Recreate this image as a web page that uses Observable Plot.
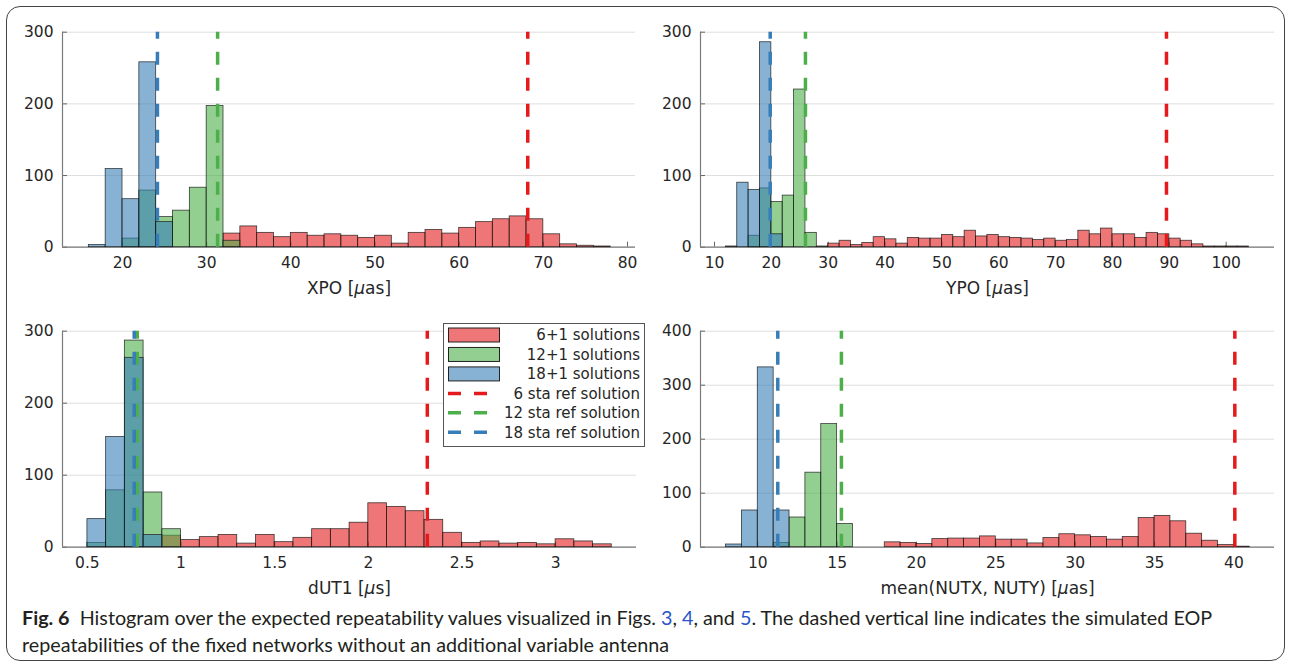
<!DOCTYPE html>
<html><head><meta charset="utf-8">
<script src="https://cdn.jsdelivr.net/npm/d3@7"></script>
<script src="https://cdn.jsdelivr.net/npm/@observablehq/plot@0.6"></script>
<style>
body{margin:0;background:#fff;}
#wrap{position:relative;width:1290px;height:665px;overflow:hidden;font-family:"DejaVu Sans";background:#fff;}
#frame{position:absolute;left:6px;top:6px;width:1279px;height:655px;border:1.5px solid #444;border-radius:14px;box-sizing:border-box;}
.panel{position:absolute;}
#caption{position:absolute;left:22px;top:604px;font-family:Lato;font-size:17px;line-height:27px;color:#231f20;white-space:nowrap;}
#caption .lnk{color:#2a55c8;}
</style></head><body>
<div id="wrap"><div id="frame"></div></div>
<script>
// ---------- data ----------
const seriesNames = ["6+1 solutions", "12+1 solutions", "18+1 solutions"];
const refNames = ["6 sta ref solution", "12 sta ref solution", "18 sta ref solution"];
const colors = ["#e41a1c", "#4daf4a", "#377eb8"];

// XPO: bins of 2 µas starting at 16
const xpoStart = 16, xpoStep = 2;
const xpoRed   = [0,0,0,0,0,0,0,0,19,29,20,14,20,16,18,16,13,16,5,20,24,19,27,35,39,43,39,18,4,2,1,0];
const xpoGreen = [0,0,12,79,42,51,83,197,9,0,0,0,0,0,0,0,0,0,0,0,0,0,0,0,0,0,0,0,0,0,0,0];
const xpoBlue  = [3,109,67,258,35,0,0,0,0,0,0,0,0,0,0,0,0,0,0,0,0,0,0,0,0,0,0,0,0,0,0,0];
const xpoRefs  = [68.15, 31.3, 24.15];
const xpoTicks = [20,30,40,50,60,70,80];

// YPO: bins of 2 µas starting at 12
const ypoStart = 12, ypoStep = 2;
const ypoRed   = [0,0,0,0,0,0,0,0,0,5,9,3,6,14,11,5,13,12,12,17,14,23,15,17,14,13,12,10,12,9,10,23,18,26,18,18,13,20,18,12,9,4,1,1,1,1];
const ypoGreen = [0,0,16,82,63,72,220,20,1,0,0,0,0,0,0,0,0,0,0,0,0,0,0,0,0,0,0,0,0,0,0,0,0,0,0,0,0,0,0,0,0,0,0,0,0,0];
const ypoBlue  = [1,90,80,286,18,0,0,0,0,0,0,0,0,0,0,0,0,0,0,0,0,0,0,0,0,0,0,0,0,0,0,0,0,0,0,0,0,0,0,0,0,0,0,0,0,0];
const ypoRefs  = [89.5, 26.0, 19.8];
const ypoTicks = [10,20,30,40,50,60,70,80,90,100];

// dUT1: bins of 0.1 µs starting at 0.5
const dutStart = 0.5, dutStep = 0.1;
const dutRed   = [0,0,0,0,16,10,14,17,5,17,7,13,25,25,34,61,56,50,38,20,6,8,5,6,4,11,8,4];
const dutGreen = [6,79,287,76,25,0,0,0,0,0,0,0,0,0,0,0,0,0,0,0,0,0,0,0,0,0,0,0];
const dutBlue  = [39,153,263,17,0,0,0,0,0,0,0,0,0,0,0,0,0,0,0,0,0,0,0,0,0,0,0,0];
const dutRefs  = [2.315, 0.766, 0.75];
const dutTicks = [0.5,1,1.5,2,2.5,3];

// mean(NUTX, NUTY): bins of 1 µas starting at 8
const nutStart = 8, nutStep = 1;
const nutRed   = [0,0,0,0,0,0,0,0,0,0,9,8,6,15,16,16,20,14,14,7,17,24,22,19,14,19,54,58,48,25,12,4,1];
const nutGreen = [0,0,0,8,55,138,228,43,0,0,0,0,0,0,0,0,0,0,0,0,0,0,0,0,0,0,0,0,0,0,0,0,0];
const nutBlue  = [5,68,333,68,0,0,0,0,0,0,0,0,0,0,0,0,0,0,0,0,0,0,0,0,0,0,0,0,0,0,0,0,0];
const nutRefs  = [40.06, 15.27, 11.26];
const nutTicks = [10,15,20,25,30,35,40];

const yTicks300 = [0,100,200,300];
const yTicks400 = [0,100,200,300,400];

// ---------- drawing ----------
const wrap = document.getElementById("wrap");

function italicMu(svg) {
  for (const t of svg.querySelectorAll("text")) {
    if (t.childElementCount === 0 && t.textContent.includes("μ")) {
      const s = t.textContent, i = s.indexOf("μ");
      t.textContent = "";
      t.append(document.createTextNode(s.slice(0, i)));
      const ts = document.createElementNS("http://www.w3.org/2000/svg", "tspan");
      ts.setAttribute("font-style", "italic");
      ts.textContent = "μ";
      t.append(ts);
      t.append(document.createTextNode(s.slice(i + 1)));
    }
  }
}

function panel(o) {
  const W = 645, H = 300, mB = 53.3;
  const fw = W - o.mL - o.mR, fh = H - o.mT - mB;
  const bins = arr => arr.map((c, i) => ({x1: o.start + o.step * i, x2: o.start + o.step * (i + 1), c})).filter(d => d.c > 0);
  const series = [o.red, o.green, o.blue];
  const marks = [
    Plot.gridY(o.yTicks, {stroke: "#dedede", strokeOpacity: 1, strokeWidth: 1}),
    Plot.tickX(o.xTicks, {x: d => d, insetTop: fh - 5, stroke: "#666", strokeWidth: 1}),
    Plot.tickY(o.yTicks, {y: d => d, insetRight: fw - 5, stroke: "#666", strokeWidth: 1}),
    Plot.ruleY([0], {stroke: "#7a7a7a", strokeWidth: 1.2}),
    Plot.ruleX([o.xDomain[0]], {stroke: "#7a7a7a", strokeWidth: 1.2})
  ];
  series.forEach((s, k) => {
    marks.push(Plot.rectY(bins(s), {x1: "x1", x2: "x2", y: "c", fill: colors[k], fillOpacity: 0.6,
      stroke: "#111", strokeOpacity: 0.8, strokeWidth: 0.8}));
  });
  o.refs.forEach((v, k) => {
    marks.push(Plot.ruleX([v], {x: d => d, y1: 0, y2: o.yTicks[o.yTicks.length - 1], stroke: colors[k],
      strokeWidth: 3.5, strokeDasharray: "13,13"}));
  });
  marks.push(
    Plot.axisX(o.xTicks, {tickSize: 0, tickPadding: 10, tickFormat: o.fmt || (d => String(d)), fill: "#262626", label: null}),
    Plot.axisY(o.yTicks, {tickSize: 0, tickPadding: 9, fill: "#262626", label: null}),
    Plot.text([o.label], {text: d => d, frameAnchor: "bottom", dy: 41, fontSize: 17, fill: "#262626", lineAnchor: "middle"})
  );
  const svg = Plot.plot({
    width: W, height: H,
    marginLeft: o.mL, marginRight: o.mR, marginTop: o.mT, marginBottom: mB,
    x: {type: "linear", domain: o.xDomain},
    y: {type: "linear", domain: [0, o.yTicks[o.yTicks.length - 1]]},
    style: {fontFamily: "DejaVu Sans", fontSize: "15.5px", color: "#262626", background: "transparent", overflow: "visible"},
    marks
  });
  italicMu(svg);
  svg.classList.add("panel");
  svg.style.left = o.left + "px";
  svg.style.top = o.top + "px";
  wrap.append(svg);
}

panel({start: xpoStart, step: xpoStep, red: xpoRed, green: xpoGreen, blue: xpoBlue, refs: xpoRefs,
  xDomain: [12.87, 80.95], xTicks: xpoTicks, yTicks: yTicks300, label: "XPO [μas]",
  left: 0, top: 0, mL: 62, mR: 10, mT: 31.7});
panel({start: ypoStart, step: ypoStep, red: ypoRed, green: ypoGreen, blue: ypoBlue, refs: ypoRefs,
  xDomain: [7.54, 108.5], xTicks: ypoTicks, yTicks: yTicks300, label: "YPO [μas]",
  left: 645, top: 0, mL: 55, mR: 16, mT: 31.7});
panel({start: dutStart, step: dutStep, red: dutRed, green: dutGreen, blue: dutBlue, refs: dutRefs,
  xDomain: [0.367, 3.432], xTicks: dutTicks, yTicks: yTicks300, label: "dUT1 [μs]",
  left: 0, top: 300, mL: 62, mR: 9, mT: 30.7});
panel({start: nutStart, step: nutStep, red: nutRed, green: nutGreen, blue: nutBlue, refs: nutRefs,
  xDomain: [6.39, 42.56], xTicks: nutTicks, yTicks: yTicks400, label: "mean(NUTX, NUTY) [μas]",
  left: 645, top: 300, mL: 55, mR: 16, mT: 30.7});

// ---------- legend ----------
const lg = d3.select(wrap).append("svg").attr("class", "panel")
  .style("left", "443px").style("top", "323px").attr("width", 203).attr("height", 125);
lg.append("rect").attr("x", 0.5).attr("y", 0.5).attr("width", 201).attr("height", 123)
  .attr("fill", "#fff").attr("stroke", "#555").attr("stroke-width", 1);
const rowY = i => 12 + 19.46 * i;
seriesNames.forEach((n, i) => {
  lg.append("rect").attr("x", 5.5).attr("y", rowY(i) - 7).attr("width", 51).attr("height", 14)
    .attr("fill", colors[i]).attr("fill-opacity", 0.6).attr("stroke", "#222").attr("stroke-width", 1);
});
refNames.forEach((n, i) => {
  lg.append("line").attr("x1", 5).attr("x2", 45).attr("y1", rowY(i + 3)).attr("y2", rowY(i + 3))
    .attr("stroke", colors[i]).attr("stroke-width", 3.5).attr("stroke-dasharray", "13,13");
});
[...seriesNames, ...refNames].forEach((n, i) => {
  lg.append("text").attr("x", 197).attr("y", rowY(i)).attr("dy", "0.36em").attr("text-anchor", "end")
    .attr("font-family", "DejaVu Sans").attr("font-size", 15).attr("fill", "#262626").text(n);
});

// ---------- caption ----------
const cap = document.createElement("div");
cap.id = "caption";
cap.innerHTML = '<span id="cl1"><b>Fig. 6</b>&nbsp; Histogram over the expected repeatability values visualized in Figs. <span class="lnk">3</span>, <span class="lnk">4</span>, and <span class="lnk">5</span>. The dashed vertical line indicates the simulated EOP</span><br>repeatabilities of the fixed networks without an additional variable antenna';
wrap.append(cap);
// fit the first caption line to the reference width
const w1 = document.getElementById("cl1").getBoundingClientRect().width;
cap.style.fontSize = (17 * 1190 / w1).toFixed(2) + "px";
</script>
</body></html>
